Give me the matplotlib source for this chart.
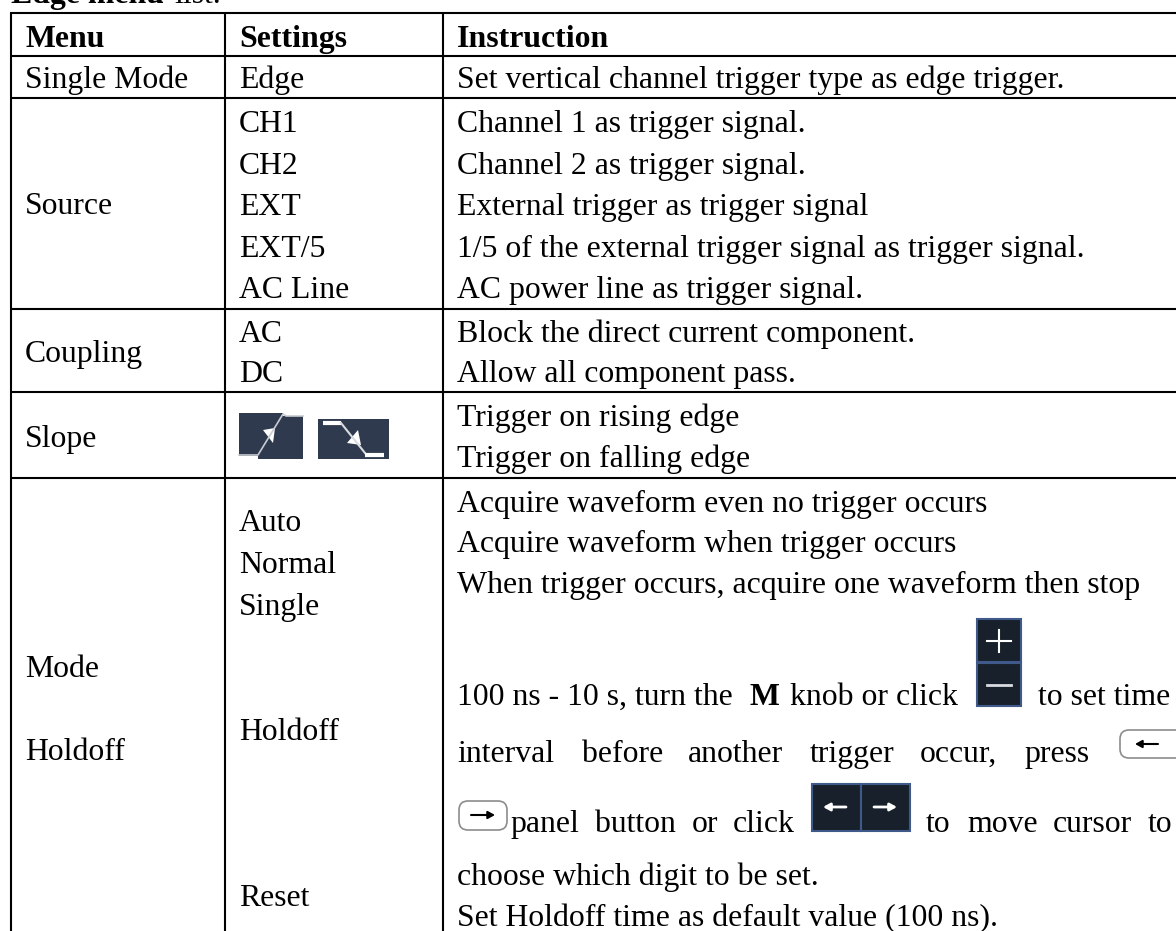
# Edge menu table, drawn in pixel coordinates of the original page
import matplotlib
matplotlib.use("Agg")
import matplotlib.pyplot as plt
from matplotlib.patches import Rectangle, FancyBboxPatch, Polygon

W, H = 1176, 931
FS = 22.9
DARK = "#18212b"
BLUE = "#3f5a8a"
SLOPE = "#2f3a4e"

# table contents: (text, baseline y)
header = ["Menu", "Settings", "Instruction"]
menu_labels = [("Single Mode", 88), ("Source", 214), ("Coupling", 362), ("Slope", 447), ("Mode", 677), ("Holdoff", 760)]
settings_labels = [("Edge", 88), ("CH1", 132), ("CH2", 174), ("EXT", 215), ("EXT/5", 257), ("AC Line", 298),
                   ("AC", 342), ("DC", 382), ("Auto", 531), ("Normal", 573), ("Single", 615), ("Holdoff", 740), ("Reset", 906)]
instructions = [("Set vertical channel trigger type as edge trigger.", 88),
                ("Channel 1 as trigger signal.", 132),
                ("Channel 2 as trigger signal.", 174),
                ("External trigger as trigger signal", 215),
                ("1/5 of the external trigger signal as trigger signal.", 257),
                ("AC power line as trigger signal.", 298),
                ("Block the direct current component.", 342),
                ("Allow all component pass.", 382),
                ("Trigger on rising edge", 426),
                ("Trigger on falling edge", 467),
                ("Acquire waveform even no trigger occurs", 512),
                ("Acquire waveform when trigger occurs", 552),
                ("When trigger occurs, acquire one waveform then stop", 593),
                ("choose which digit to be set.", 885),
                ("Set Holdoff time as default value (100 ns).", 926)]
# justified lines of the holdoff text: (word, left x, baseline y)
justified = [("100 ns - 10 s, turn the", 457, 705), ("knob or click", 790, 705), ("to set time", 1038, 705),
             ("interval", 457, 762), ("before", 582, 762), ("another", 688, 762), ("trigger", 810, 762),
             ("occur,", 920, 762), ("press", 1024, 762),
             ("panel", 510, 832), ("button", 595, 832), ("or", 692, 832), ("click", 733, 832),
             ("to", 926, 832), ("move", 967, 832), ("cursor", 1053, 832), ("to", 1148, 832)]
row_lines = [13, 56, 98, 309, 392, 478]
col_lines = [11, 225, 443]

fig = plt.figure(figsize=(W / 100, H / 100), dpi=100)
ax = fig.add_axes([0, 0, 1, 1])
ax.set_xlim(0, W)
ax.set_ylim(H, 0)
ax.axis("off")


def txt(x, y, s, weight="normal"):
    ax.text(x, y, s, fontsize=FS, ha="left", va="baseline", color="black", weight=weight,
            family="Liberation Serif", clip_on=True)


def arrow(x0, x1, y, color, lw=1.8):
    ax.annotate("", xy=(x1, y), xytext=(x0, y),
                arrowprops=dict(arrowstyle="-|>,head_width=0.22,head_length=0.4", color=color, lw=lw,
                                shrinkA=0, shrinkB=0))


# text cut by the top edge
txt(11, 3, "Edge menu", "bold")
txt(174, 3, "list.")

for s, x in zip(header, [25, 239, 457]):
    txt(x, 47, s, "bold")
for s, y in menu_labels:
    txt(25, y, s)
for s, y in settings_labels:
    txt(239, y, s)
for s, y in instructions:
    txt(457, y, s)
for s, x, y in justified:
    txt(x, y, s)
txt(750, 705, "M", "bold")

# grid lines
lw = 1.5
for y in row_lines:
    ax.plot([10, W], [y, y], color="black", lw=lw, solid_capstyle="butt")
for x in col_lines:
    ax.plot([x, x], [13, H], color="black", lw=lw, solid_capstyle="butt")

# slope icons
ax.add_patch(Rectangle((239, 413), 64, 46, fc=SLOPE, ec="none"))
ax.add_patch(Rectangle((283, 412), 21, 4, fc="white", ec="none"))
ax.add_patch(Rectangle((238, 456), 20, 4, fc="white", ec="none"))
ax.plot([239, 258, 283, 286, 303], [455, 455, 414, 416, 416], color="#c8ccd2", lw=1.2)
ax.add_patch(Polygon([[263, 430], [275, 428], [273, 443]], fc="white", ec="none"))
ax.add_patch(Rectangle((318, 419), 71, 40, fc=SLOPE, ec="none"))
ax.plot([323, 341], [423, 423], color="white", lw=3, solid_capstyle="butt")
ax.plot([341, 365], [423, 453], color="#d8dbe0", lw=1.5)
ax.plot([365, 384], [455, 455], color="white", lw=3, solid_capstyle="butt")
ax.add_patch(Polygon([[347, 443], [358, 430], [361, 445]], fc="white", ec="none"))

# plus / minus buttons, cut off by the text line below
ax.add_patch(Rectangle((977, 619), 44, 43, fc=DARK, ec=BLUE, lw=1.5))
ax.add_patch(Rectangle((977, 663), 44, 43, fc=DARK, ec=BLUE, lw=1.5))
ax.plot([987, 1011], [641, 641], color="white", lw=1.5)
ax.plot([999, 999], [630, 652], color="white", lw=1.5)
ax.plot([987, 1011], [685, 685], color="#d8dbe0", lw=2)

# left / right buttons
ax.add_patch(Rectangle((812, 784), 49, 47, fc=DARK, ec=BLUE, lw=1.5))
ax.add_patch(Rectangle((861, 784), 49, 47, fc=DARK, ec=BLUE, lw=1.5))
arrow(846, 823, 807, "white", 2.0)
arrow(874, 897, 807, "white", 2.0)

# panel keys
ax.add_patch(FancyBboxPatch((1120, 730), 70, 28, boxstyle="round,pad=0,rounding_size=9",
                            fc="white", ec="#8c8c8c", lw=1.2, clip_on=True))
arrow(1158, 1135, 744, "black", 1.5)
ax.add_patch(FancyBboxPatch((459, 801), 48, 29, boxstyle="round,pad=0,rounding_size=9",
                            fc="white", ec="#8c8c8c", lw=1.2))
arrow(471, 495, 815, "black", 1.5)

fig.savefig("out.png", dpi=100)
